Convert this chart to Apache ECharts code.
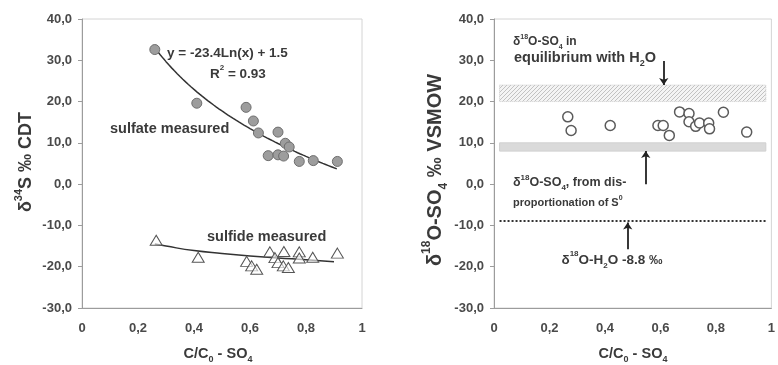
<!DOCTYPE html>
<html>
<head>
<meta charset="utf-8">
<script src="https://cdn.jsdelivr.net/npm/echarts@6/dist/echarts.min.js"></script>
<style>
  html, body { margin: 0; padding: 0; background: #fff; }
  #c { width: 778px; height: 365px; }
</style>
</head>
<body>
<div id="c"></div>
<script>
// ---- Left panel: δ34S of sulfate and sulfide vs. remaining sulfate fraction ----
const sulfateX = [0.26, 0.41, 0.586, 0.612, 0.63, 0.70, 0.726, 0.74, 0.665, 0.70, 0.72, 0.776, 0.826, 0.912];
const sulfateY = [32.6, 19.6, 18.6, 15.3, 12.4, 12.6, 9.9, 9.0, 6.9, 7.1, 6.8, 5.5, 5.7, 5.5];

const sulfideX = [0.265, 0.415, 0.588, 0.606, 0.624, 0.671, 0.689, 0.70, 0.721, 0.719, 0.737, 0.776, 0.776, 0.824, 0.912];
const sulfideY = [-13.6, -17.7, -18.7, -19.8, -20.6, -16.4, -17.8, -19.0, -16.3, -19.8, -20.2, -16.4, -17.9, -17.7, -16.7];

// logarithmic trend for sulfate: y = a·ln(x) + b
const sulfateFitA = -23.4;
const sulfateFitB = 1.5;
const sulfateFitRange = [0.26, 0.91];

// trend through the sulfide data
const sulfideFitX = [0.26, 0.30, 0.40, 0.50, 0.60, 0.70, 0.80, 0.90];
const sulfideFitY = [-14.5, -15.0, -16.1, -16.8, -17.4, -17.9, -18.3, -18.8];

// ---- Right panel: δ18O of sulfate ----
const oxygenX = [0.266, 0.278, 0.419, 0.591, 0.61, 0.632, 0.669, 0.703, 0.703, 0.727, 0.741, 0.774, 0.777, 0.827, 0.911];
const oxygenY = [16.3, 13.0, 14.2, 14.2, 14.2, 11.8, 17.5, 17.1, 15.1, 14.0, 14.8, 14.8, 13.4, 17.4, 12.6];

const bandXRange = [0.02, 0.98];
const equilibriumBand = [20, 24];      // δ18O-SO4 in equilibrium with H2O
const disproportionBand = [8, 10];     // δ18O-SO4 from disproportionation of S0
const waterValue = -8.8;               // δ18O-H2O
const waterLineRange = [0.02, 0.98];

// annotation arrows: [x, yFrom, yTo]
const equilibriumArrow = [0.612, 29.8, 24.0];
const disproportionArrow = [0.547, 0.0, 8.0];
const waterArrow = [0.482, -15.8, -9.3];

// axis ticks
const xMin = 0, xMax = 1, xStep = 0.2;
const yMin = -30, yMax = 40, yStep = 10;

const FONT = "'Liberation Sans', Arial, sans-serif";
const TXT = '#3a3a3a';

function richFor(size) {
  const s = Math.round(size * 0.6);
  return {
    sup: { fontSize: s, fontWeight: 'bold', fontFamily: FONT, fill: TXT, verticalAlign: 'top', lineHeight: s },
    sub: { fontSize: s, fontWeight: 'bold', fontFamily: FONT, fill: TXT, verticalAlign: 'bottom', lineHeight: s }
  };
}

function label(text, x, y, size, align, rotation) {
  return {
    type: 'text', x: x, y: y, rotation: rotation || 0, silent: true, z: 100,
    style: {
      text: text, fontSize: size, fontWeight: 'bold', fontFamily: FONT, fill: TXT,
      lineHeight: Math.round(size * 1.45),
      align: align || 'left', verticalAlign: 'middle', rich: richFor(size)
    }
  };
}

function hatchPattern() {
  const c = document.createElement('canvas');
  c.width = 4; c.height = 4;
  const g = c.getContext('2d');
  g.fillStyle = '#f4f4f4';
  g.fillRect(0, 0, 4, 4);
  g.strokeStyle = '#c2c2c2';
  g.lineWidth = 1;
  g.beginPath();
  g.moveTo(0, 4); g.lineTo(4, 0);
  g.moveTo(-1, 1); g.lineTo(1, -1);
  g.moveTo(3, 5); g.lineTo(5, 3);
  g.stroke();
  return c;
}

const zip = (xs, ys) => xs.map((x, i) => [x, ys[i]]);

const sulfateFit = [];
for (let i = 0; i <= 65; i++) {
  const x = sulfateFitRange[0] + (sulfateFitRange[1] - sulfateFitRange[0]) * i / 65;
  sulfateFit.push([x, sulfateFitA * Math.log(x) + sulfateFitB]);
}

function xAxis(gi) {
  return {
    type: 'value', gridIndex: gi, min: xMin, max: xMax, interval: xStep,
    axisLine: { show: true, onZero: false, lineStyle: { color: '#9c9c9c', width: 1 } },
    axisTick: { show: false },
    splitLine: { show: false },
    axisLabel: {
      color: '#4a4a4a', fontWeight: 'bold', fontSize: 13, fontFamily: FONT, margin: 14,
      formatter: v => String(+v.toFixed(1)).replace('.', ',')
    }
  };
}
function yAxis(gi) {
  return {
    type: 'value', gridIndex: gi, min: yMin, max: yMax, interval: yStep,
    axisLine: { show: true, onZero: false, lineStyle: { color: '#9c9c9c', width: 1 } },
    axisTick: { show: true, inside: false, length: 4, lineStyle: { color: '#9c9c9c' } },
    splitLine: { show: false },
    axisLabel: {
      color: '#4a4a4a', fontWeight: 'bold', fontSize: 13, fontFamily: FONT, margin: 10,
      formatter: v => v.toFixed(1).replace('.', ',')
    }
  };
}

const arrowLine = a => [{ coord: [a[0], a[1]] }, { coord: [a[0], a[2]] }];

const chart = echarts.init(document.getElementById('c'), null, { renderer: 'canvas' });
chart.setOption({
  animation: false,
  backgroundColor: '#fff',
  grid: [
    { left: 82, top: 19, width: 280, height: 289, show: true, borderColor: '#d4d4d4', borderWidth: 1 },
    { left: 494, top: 19, width: 282, height: 289, show: true, borderColor: '#d4d4d4', borderWidth: 1 }
  ],
  xAxis: [xAxis(0), xAxis(1)],
  yAxis: [yAxis(0), yAxis(1)],
  series: [
    {
      name: 'sulfate fit', type: 'line', xAxisIndex: 0, yAxisIndex: 0,
      data: sulfateFit, showSymbol: false, silent: true, z: 3,
      lineStyle: { color: '#333', width: 1.5 }
    },
    {
      name: 'sulfide fit', type: 'line', xAxisIndex: 0, yAxisIndex: 0,
      data: zip(sulfideFitX, sulfideFitY), smooth: true, showSymbol: false, silent: true, z: 3,
      lineStyle: { color: '#333', width: 1.5 }
    },
    {
      name: 'sulfate measured', type: 'scatter', xAxisIndex: 0, yAxisIndex: 0,
      data: zip(sulfateX, sulfateY), symbol: 'circle', symbolSize: 10, z: 4,
      itemStyle: { color: '#9d9d9d', borderColor: '#6e6e6e', borderWidth: 1, opacity: 1 }
    },
    {
      name: 'sulfide measured', type: 'scatter', xAxisIndex: 0, yAxisIndex: 0,
      data: zip(sulfideX, sulfideY), symbol: 'triangle', symbolSize: [12, 10], z: 4,
      itemStyle: { color: 'rgba(255,255,255,0.6)', borderColor: '#555', borderWidth: 1, opacity: 1 }
    },
    {
      name: 'bands', type: 'line', xAxisIndex: 1, yAxisIndex: 1, data: [], z: 1, silent: true,
      markArea: {
        silent: true,
        data: [
          [
            { coord: [bandXRange[0], equilibriumBand[1]], itemStyle: { color: { image: hatchPattern(), repeat: 'repeat' }, borderColor: '#cccccc', borderWidth: 1, borderType: 'dotted' } },
            { coord: [bandXRange[1], equilibriumBand[0]] }
          ],
          [
            { coord: [bandXRange[0], disproportionBand[1]], itemStyle: { color: '#dadada', borderColor: '#d0d0d0', borderWidth: 1 } },
            { coord: [bandXRange[1], disproportionBand[0]] }
          ]
        ]
      },
      markLine: {
        silent: true, symbol: ['none', 'none'], label: { show: false },
        lineStyle: { color: '#333', width: 2, type: [2, 2] },
        data: [[{ coord: [waterLineRange[0], waterValue] }, { coord: [waterLineRange[1], waterValue] }]]
      }
    },
    {
      name: 'arrows', type: 'line', xAxisIndex: 1, yAxisIndex: 1, data: [], z: 5, silent: true,
      markLine: {
        silent: true, symbol: ['none', 'arrow'], symbolSize: 7, label: { show: false },
        lineStyle: { color: '#222', width: 1.8, type: 'solid' },
        data: [arrowLine(equilibriumArrow), arrowLine(disproportionArrow), arrowLine(waterArrow)]
      }
    },
    {
      name: 'δ18O-SO4', type: 'scatter', xAxisIndex: 1, yAxisIndex: 1,
      data: zip(oxygenX, oxygenY), symbol: 'circle', symbolSize: 10, z: 4,
      itemStyle: { color: '#fff', borderColor: '#5a5a5a', borderWidth: 1.5, opacity: 1 }
    }
  ],
  graphic: [
    // axis titles
    label('δ{sup|34}S ‰ CDT', 26, 162, 18, 'center', Math.PI / 2),
    label('δ{sup|18}O-SO{sub|4} ‰ VSMOW', 435, 170, 20, 'center', Math.PI / 2),
    label('C/C{sub|0} - SO{sub|4}', 218, 354, 14.5, 'center'),
    label('C/C{sub|0} - SO{sub|4}', 633, 354, 14.5, 'center'),
    // left panel notes
    label('y = -23.4Ln(x) + 1.5', 167, 53, 13.5, 'left'),
    label('R{sup|2} = 0.93', 210, 74, 13.5, 'left'),
    label('sulfate measured', 110, 129, 14.5, 'left'),
    label('sulfide measured', 207, 237, 14.5, 'left'),
    // right panel notes
    label('δ{sup|18}O-SO{sub|4} in', 513, 42, 12, 'left'),
    label('equilibrium with H{sub|2}O', 514, 58, 14.5, 'left'),
    label('δ{sup|18}O-SO{sub|4}, from dis-', 513, 183, 12.5, 'left'),
    label('proportionation of S{sup|0}', 513, 203, 11, 'left'),
    label('δ{sup|18}O-H{sub|2}O -8.8 ‰', 612, 260, 13.5, 'center')
  ]
});
</script>
</body>
</html>
